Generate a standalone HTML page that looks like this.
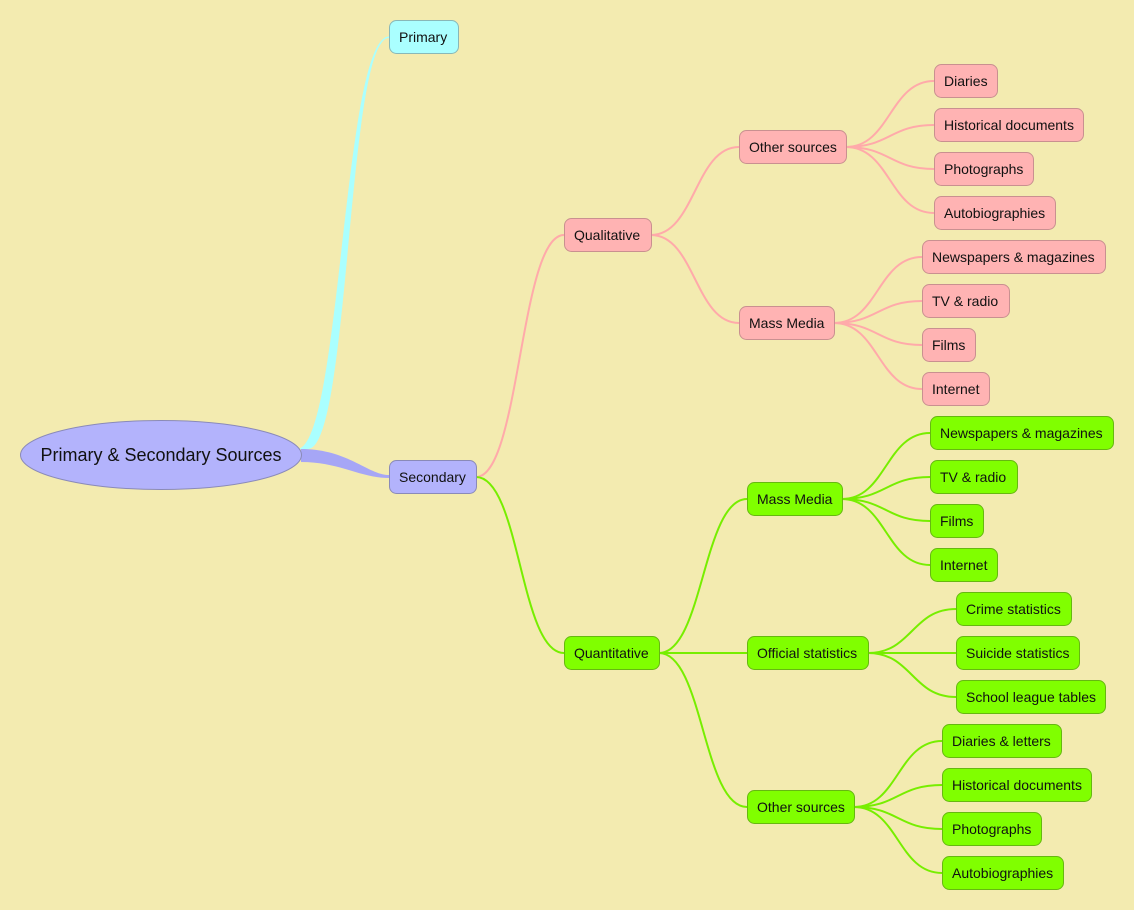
<!DOCTYPE html>
<html><head><meta charset="utf-8"><style>
html,body{margin:0;padding:0;background:#f3ebb0;}
svg{display:block;}
text{font-family:"Liberation Sans",Arial,sans-serif;font-size:14px;fill:#111;}
</style></head><body>
<svg width="1134" height="910" viewBox="0 0 1134 910" xmlns="http://www.w3.org/2000/svg">
<rect width="1134" height="910" fill="#f3ebb0"/>
<!-- tapered main branches -->
<path d="M297,449 C341,449 343,37 389,36.5 L389,38 C347,37.5 350,449 308,449 Z" fill="#aaffff"/>
<path d="M301,449 C348,449 368,475 389,475 L389,478 C360,478 340,462 301,462 Z" fill="#a6a6f6"/>
<!-- pink connectors -->
<g fill="none" stroke="#ffaaaa" stroke-width="2">
<path d="M476,477 C520,477 520,235 564,235"/>
<path d="M651,235 C695,235 695,147 739,147"/>
<path d="M651,235 C695,235 695,323 739,323"/>
<path d="M846,147 C890,147 890,81 934,81"/>
<path d="M846,147 C890,147 890,125 934,125"/>
<path d="M846,147 C890,147 890,169 934,169"/>
<path d="M846,147 C890,147 890,213 934,213"/>
<path d="M834,323 C878,323 878,257 922,257"/>
<path d="M834,323 C878,323 878,301 922,301"/>
<path d="M834,323 C878,323 878,345 922,345"/>
<path d="M834,323 C878,323 878,389 922,389"/>
</g>
<!-- green connectors -->
<g fill="none" stroke="#77ee00" stroke-width="2">
<path d="M476,477 C520,477 520,653 564,653"/>
<path d="M659,653 C703,653 703,499 747,499"/>
<path d="M659,653 L747,653"/>
<path d="M659,653 C703,653 703,807 747,807"/>
<path d="M842,499 C886,499 886,433 930,433"/>
<path d="M842,499 C886,499 886,477 930,477"/>
<path d="M842,499 C886,499 886,521 930,521"/>
<path d="M842,499 C886,499 886,565 930,565"/>
<path d="M868,653 C912,653 912,609 956,609"/>
<path d="M868,653 L956,653"/>
<path d="M868,653 C912,653 912,697 956,697"/>
<path d="M854,807 C898,807 898,741 942,741"/>
<path d="M854,807 C898,807 898,785 942,785"/>
<path d="M854,807 C898,807 898,829 942,829"/>
<path d="M854,807 C898,807 898,873 942,873"/>
</g>
<!-- root -->
<ellipse cx="161" cy="455" rx="140.5" ry="34.5" fill="#b3b3fc" stroke="#8a8ab8" stroke-width="1"/>
<text x="161" y="461" text-anchor="middle" style="font-size:18px">Primary &amp; Secondary Sources</text>
<!-- primary / secondary -->
<rect x="389.5" y="20.5" width="69" height="33" rx="7" fill="#aaffff" stroke="#88b8b8"/>
<text x="399" y="42">Primary</text>
<rect x="389.5" y="460.5" width="87" height="33" rx="7" fill="#b3b3fc" stroke="#8a8ab8"/>
<text x="399" y="482">Secondary</text>
<!-- pink nodes -->
<g fill="#ffb3b3" stroke="#c99090">
<rect x="564.5" y="218.5" width="87" height="33" rx="7"/>
<rect x="739.5" y="130.5" width="107" height="33" rx="7"/>
<rect x="739.5" y="306.5" width="95" height="33" rx="7"/>
<rect x="934.5" y="64.5" width="63" height="33" rx="7"/>
<rect x="934.5" y="108.5" width="149" height="33" rx="7"/>
<rect x="934.5" y="152.5" width="99" height="33" rx="7"/>
<rect x="934.5" y="196.5" width="121" height="33" rx="7"/>
<rect x="922.5" y="240.5" width="183" height="33" rx="7"/>
<rect x="922.5" y="284.5" width="87" height="33" rx="7"/>
<rect x="922.5" y="328.5" width="53" height="33" rx="7"/>
<rect x="922.5" y="372.5" width="67" height="33" rx="7"/>
</g>
<text x="574" y="240">Qualitative</text>
<text x="749" y="152">Other sources</text>
<text x="749" y="328">Mass Media</text>
<text x="944" y="86">Diaries</text>
<text x="944" y="130">Historical documents</text>
<text x="944" y="174">Photographs</text>
<text x="944" y="218">Autobiographies</text>
<text x="932" y="262">Newspapers &amp; magazines</text>
<text x="932" y="306">TV &amp; radio</text>
<text x="932" y="350">Films</text>
<text x="932" y="394">Internet</text>
<!-- green nodes -->
<g fill="#80ff00" stroke="#66b810">
<rect x="564.5" y="636.5" width="95" height="33" rx="7"/>
<rect x="747.5" y="482.5" width="95" height="33" rx="7"/>
<rect x="747.5" y="636.5" width="121" height="33" rx="7"/>
<rect x="747.5" y="790.5" width="107" height="33" rx="7"/>
<rect x="930.5" y="416.5" width="183" height="33" rx="7"/>
<rect x="930.5" y="460.5" width="87" height="33" rx="7"/>
<rect x="930.5" y="504.5" width="53" height="33" rx="7"/>
<rect x="930.5" y="548.5" width="67" height="33" rx="7"/>
<rect x="956.5" y="592.5" width="115" height="33" rx="7"/>
<rect x="956.5" y="636.5" width="123" height="33" rx="7"/>
<rect x="956.5" y="680.5" width="149" height="33" rx="7"/>
<rect x="942.5" y="724.5" width="119" height="33" rx="7"/>
<rect x="942.5" y="768.5" width="149" height="33" rx="7"/>
<rect x="942.5" y="812.5" width="99" height="33" rx="7"/>
<rect x="942.5" y="856.5" width="121" height="33" rx="7"/>
</g>
<text x="574" y="658">Quantitative</text>
<text x="757" y="504">Mass Media</text>
<text x="757" y="658">Official statistics</text>
<text x="757" y="812">Other sources</text>
<text x="940" y="438">Newspapers &amp; magazines</text>
<text x="940" y="482">TV &amp; radio</text>
<text x="940" y="526">Films</text>
<text x="940" y="570">Internet</text>
<text x="966" y="614">Crime statistics</text>
<text x="966" y="658">Suicide statistics</text>
<text x="966" y="702">School league tables</text>
<text x="952" y="746">Diaries &amp; letters</text>
<text x="952" y="790">Historical documents</text>
<text x="952" y="834">Photographs</text>
<text x="952" y="878">Autobiographies</text>
</svg>
</body></html>
